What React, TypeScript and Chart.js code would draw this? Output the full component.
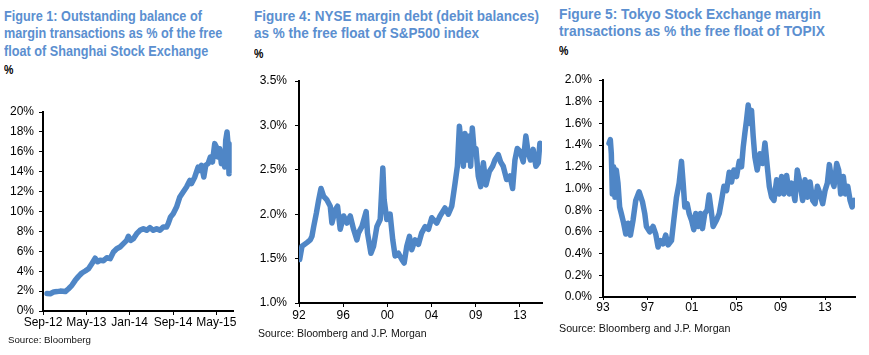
import React, { useEffect, useRef } from "react";
import { Chart, registerables } from "chart.js";

Chart.register(...registerables);

// ---------- Figure 1: Shanghai (x = months since Sep-12) ----------
const shMonths = [
  0.74, 1.35, 1.96, 2.58, 3.19, 4.11, 4.72, 5.33, 5.95, 6.56,
  7.17, 7.79, 8.4, 9.01, 9.63, 10.06, 10.55, 11.16, 11.77, 12.39,
  13.0, 13.61, 14.22, 14.84, 15.45, 15.76, 16.19, 16.68, 17.29, 17.9,
  18.52, 19.13, 19.74, 20.36, 20.97, 21.58, 22.2, 22.81, 23.11, 23.54,
  24.03, 24.65, 25.26, 25.87, 26.49, 27.1, 27.41, 28.02, 28.63, 28.94,
  29.25, 29.68, 30.04, 30.47, 30.9, 31.27, 31.7, 32.0, 32.31, 32.62,
  32.92, 33.23, 33.54, 33.72, 33.97, 34.15, 34.33,
];
const shValues = [
  1.75, 1.74, 1.91, 1.95, 2.0, 1.95, 2.24, 2.58, 3.08, 3.48,
  3.82, 4.02, 4.25, 4.76, 5.3, 4.95, 5.1, 5.05, 5.35, 5.26,
  5.93, 6.26, 6.43, 6.77, 7.1, 7.5, 7.1, 7.27, 7.77, 8.11,
  8.27, 8.11, 8.38, 8.11, 8.27, 8.11, 8.44, 8.44, 8.78, 9.45,
  9.78, 10.45, 11.46, 11.96, 12.46, 13.13, 12.8, 13.47, 14.47, 14.14,
  14.64, 13.47, 14.64, 14.81, 15.48, 14.97, 16.82, 16.48, 15.48, 16.31,
  14.81, 15.48, 14.47, 17.15, 17.99, 16.82, 13.8,
];
const shXTicks = [0, 8, 16, 24, 32];
const shXLabels = ["Sep-12", "May-13", "Jan-14", "Sep-14", "May-15"];
const shYLabels = ["0%", "2%", "4%", "6%", "8%", "10%", "12%", "14%", "16%", "18%", "20%"];

// ---------- Figure 4: NYSE ----------
const nyX = [
  0.06, 0.27, 0.72, 1.02, 1.17, 1.33, 1.57, 1.78, 1.99, 2.23,
  2.53, 2.83, 2.98, 3.28, 3.49, 3.73, 4.04, 4.34, 4.64, 4.94,
  5.24, 5.39, 5.69, 6.08, 6.2, 6.51, 6.75, 7.05, 7.35, 7.59,
  7.71, 7.95, 8.25, 8.49, 8.7, 9.0, 9.31, 9.52, 9.76, 10.0,
  10.21, 10.51, 10.81, 11.11, 11.42, 11.72, 12.02, 12.47, 12.77, 13.22,
  13.52, 13.83, 14.13, 14.34, 14.52, 14.73, 14.88, 15.03, 15.24, 15.42,
  15.54, 15.69, 15.87, 16.02, 16.23, 16.45, 16.69, 16.93, 17.23, 17.53,
  17.74, 18.04, 18.25, 18.49, 18.8, 19.1, 19.34, 19.55, 19.76, 20.0,
  20.3, 20.54, 20.75, 20.96, 21.2, 21.45, 21.66, 21.81, 21.96,
];
const nyValues = [
  1.49, 1.64, 1.68, 1.71, 1.75, 1.86, 2.01, 2.16, 2.29, 2.2,
  2.16, 2.09, 1.9, 2.05, 2.09, 1.83, 1.98, 1.9, 1.98, 1.83,
  1.71, 1.79, 1.86, 2.03, 1.79, 1.56, 1.64, 1.86, 1.94, 2.52,
  2.16, 1.94, 2.0, 1.71, 1.53, 1.56, 1.49, 1.45, 1.64, 1.75,
  1.6, 1.71, 1.66, 1.79, 1.86, 1.83, 1.96, 1.9, 1.98, 2.07,
  2.0, 2.09, 2.35, 2.54, 2.99, 2.73, 2.54, 2.91, 2.61, 2.88,
  2.54, 2.97, 2.69, 2.74, 2.43, 2.31, 2.58, 2.33, 2.48, 2.54,
  2.61, 2.67, 2.59, 2.54, 2.39, 2.43, 2.29, 2.61, 2.74, 2.71,
  2.59, 2.88, 2.69, 2.61, 2.73, 2.54, 2.58, 2.8, 2.76,
];
const nyXTicks = [0, 4, 8, 12, 16, 20];
const nyXLabels = ["92", "96", "00", "04", "09", "13"];
const nyYLabels = ["1.0%", "1.5%", "2.0%", "2.5%", "3.0%", "3.5%"];

// ---------- Figure 5: Tokyo ----------
const tkX = [
  0.54, 0.66, 0.75, 0.84, 0.96, 1.08, 1.2, 1.35, 1.5, 1.65,
  1.86, 2.05, 2.26, 2.47, 2.71, 2.95, 3.25, 3.55, 3.76, 3.91,
  4.21, 4.51, 4.75, 4.96, 5.17, 5.41, 5.65, 5.86, 6.17, 6.38,
  6.62, 6.86, 7.07, 7.22, 7.37, 7.58, 7.76, 7.97, 8.18, 8.36,
  8.57, 8.78, 8.96, 9.17, 9.38, 9.56, 9.74, 9.92, 10.23, 10.47,
  10.68, 10.89, 11.13, 11.37, 11.58, 11.79, 12.03, 12.27, 12.48, 12.63,
  12.78, 12.93, 13.08, 13.23, 13.38, 13.53, 13.68, 13.89, 14.14, 14.38,
  14.59, 14.8, 14.98, 15.19, 15.4, 15.64, 15.88, 16.09, 16.3, 16.54,
  16.78, 16.99, 17.29, 17.5, 17.74, 17.98, 18.2, 18.41, 18.65, 18.89,
  19.1, 19.31, 19.55, 19.79, 20.0, 20.21, 20.39, 20.6, 20.81, 21.05,
  21.23, 21.41, 21.65, 21.83, 22.05, 22.26, 22.44, 22.62,
];
const tkValues = [
  1.415, 1.45, 1.32, 0.95, 1.2, 0.92, 1.17, 1.05, 0.83, 0.77,
  0.68, 0.58, 0.68, 0.57, 0.71, 0.89, 0.97, 0.88, 0.77, 0.65,
  0.6, 0.65, 0.58, 0.46, 0.52, 0.49, 0.57, 0.48, 0.52, 0.71,
  0.92, 1.05, 1.25, 1.05, 0.83, 0.86, 0.77, 0.71, 0.62, 0.77,
  0.65, 0.77, 0.63, 0.77, 0.8, 0.94, 0.8, 0.65, 0.71, 0.77,
  0.89, 1.02, 0.98, 1.15, 1.06, 1.17, 1.11, 1.25, 1.2, 1.38,
  1.51, 1.63, 1.77, 1.6, 1.72, 1.48, 1.29, 1.17, 1.32, 1.23,
  1.42, 1.2, 1.02, 0.92, 0.89, 1.08, 0.95, 1.11, 0.95, 1.12,
  0.95, 1.05, 0.89, 1.17, 1.05, 0.89, 1.08, 0.92, 1.06, 0.89,
  0.86, 1.02, 0.95, 0.86, 0.98, 1.05, 1.22, 1.08, 1.02, 1.23,
  1.17, 0.95, 1.11, 0.95, 1.02, 0.89, 0.83, 0.89,
];
const tkXTicks = [0, 4, 8, 12, 16, 20];
const tkXLabels = ["93", "97", "01", "05", "09", "13"];
const tkYLabels = ["0.0%", "0.2%", "0.4%", "0.6%", "0.8%", "1.0%", "1.2%", "1.4%", "1.6%", "1.8%", "2.0%"];

const LINE = "#4f86c6";
const TITLE = "#5b8fd0";
const FONT = "'Liberation Sans', Arial, sans-serif";

type PanelProps = {
  left: number; top: number; width: number; height: number;
  yW: number; xH: number; pt: number; pr: number;
  xs: number[]; ys: number[];
  xMin: number; xMax: number; xTicks: number[]; xLabels: string[];
  yMin: number; yMax: number; yStep: number; yLabels: string[];
  yPad: number; xPad: number; xTickLen: number;
};

function Panel(p: PanelProps) {
  const ref = useRef<HTMLCanvasElement>(null);
  useEffect(() => {
    if (!ref.current) return;
    const chart = new Chart(ref.current, {
      type: "line",
      data: {
        datasets: [
          {
            data: p.xs.map((x, i) => ({ x, y: p.ys[i] })),
            borderColor: LINE,
            borderWidth: 5.5,
            pointRadius: 0,
            tension: 0,
            borderJoinStyle: "round",
            borderCapStyle: "round",
          },
        ],
      },
      options: {
        animation: false,
        responsive: false,
        devicePixelRatio: 1,
        layout: { padding: { top: p.pt, right: p.pr, left: 0, bottom: 0 } },
        plugins: { legend: { display: false }, tooltip: { enabled: false } },
        scales: {
          x: {
            type: "linear",
            min: p.xMin,
            max: p.xMax,
            afterBuildTicks: (scale: any) => {
              scale.ticks = p.xTicks.map((v) => ({ value: v }));
            },
            afterFit: (scale: any) => {
              scale.height = p.xH;
            },
            ticks: {
              autoSkip: false,
              maxRotation: 0,
              padding: p.xPad,
              color: "#000",
              font: { family: FONT, size: 12 },
              callback: (v: any) => {
                const i = p.xTicks.indexOf(Number(v));
                return i >= 0 ? p.xLabels[i] : "";
              },
            },
            grid: { display: true, drawOnChartArea: false, drawTicks: true, tickLength: p.xTickLen, color: "#000", lineWidth: 1 },
            border: { display: true, color: "#000", width: 2 },
          },
          y: {
            type: "linear",
            min: p.yMin,
            max: p.yMax,
            afterFit: (scale: any) => {
              scale.width = p.yW;
            },
            ticks: {
              stepSize: p.yStep,
              padding: p.yPad,
              color: "#000",
              font: { family: FONT, size: 12 },
              callback: (v: any) => {
                const i = Math.round((Number(v) - p.yMin) / p.yStep);
                return p.yLabels[i] ?? "";
              },
            },
            grid: { display: true, drawOnChartArea: false, drawTicks: true, tickLength: 4, color: "#000", lineWidth: 1 },
            border: { display: true, color: "#000", width: 2 },
          },
        },
      },
    } as any);
    return () => chart.destroy();
  }, []);
  return (
    <canvas
      ref={ref}
      width={p.width}
      height={p.height}
      style={{ position: "absolute", left: p.left, top: p.top, width: p.width, height: p.height }}
    />
  );
}

function Title({ left, top, scale, lines }: { left: number; top: number; scale: number; lines: string[] }) {
  return (
    <div
      style={{
        position: "absolute",
        left,
        top,
        fontFamily: FONT,
        fontWeight: "bold",
        fontSize: 15,
        lineHeight: "17.8px",
        color: TITLE,
        whiteSpace: "nowrap",
        transform: `scaleX(${scale})`,
        transformOrigin: "left top",
      }}
    >
      {lines.map((l, i) => (
        <div key={i}>{l}</div>
      ))}
    </div>
  );
}

function Unit({ left, top }: { left: number; top: number }) {
  return (
    <div
      style={{
        position: "absolute",
        left,
        top,
        fontFamily: FONT,
        fontWeight: "bold",
        fontSize: 12,
        lineHeight: "14px",
        color: "#000",
        transform: "scaleX(0.88)",
        transformOrigin: "left top",
      }}
    >
      %
    </div>
  );
}

function Source({ left, top, size, text }: { left: number; top: number; size: number; text: string }) {
  return (
    <div
      style={{
        position: "absolute",
        left,
        top,
        fontFamily: FONT,
        fontSize: size,
        lineHeight: "12px",
        color: "#111",
        whiteSpace: "nowrap",
      }}
    >
      {text}
    </div>
  );
}

export default function App() {
  return (
    <div style={{ position: "absolute", left: 0, top: 0, width: 869, height: 355, background: "#fff", overflow: "hidden" }}>
      <Title
        left={4}
        top={6.5}
        scale={0.845}
        lines={["Figure 1: Outstanding balance of", "margin transactions as % of the free", "float of Shanghai Stock Exchange"]}
      />
      <Unit left={4} top={63} />
      <Panel
        left={0} top={95} width={250} height={240}
        yW={43} xH={24} pt={17} pr={17}
        xs={shMonths} ys={shValues}
        xMin={0} xMax={35.07} xTicks={shXTicks} xLabels={shXLabels}
        yMin={0} yMax={20} yStep={2} yLabels={shYLabels}
        yPad={5} xPad={0} xTickLen={4}
      />
      <Source left={8} top={333.5} size={9.7} text="Source: Bloomberg" />

      <Title
        left={254}
        top={6.5}
        scale={0.9}
        lines={["Figure 4: NYSE margin debt (debit balances)", "as % the free float of S&P500 index"]}
      />
      <Unit left={254} top={46.5} />
      <Panel
        left={250} top={65} width={310} height={265}
        yW={49} xH={27} pt={16} pr={18}
        xs={nyX} ys={nyValues}
        xMin={0} xMax={22} xTicks={nyXTicks} xLabels={nyXLabels}
        yMin={1} yMax={3.5} yStep={0.5} yLabels={nyYLabels}
        yPad={8} xPad={1} xTickLen={4}
      />
      <Source left={258} top={327.3} size={10.5} text="Source: Bloomberg and J.P. Morgan" />

      <Title
        left={559}
        top={4.6}
        scale={0.92}
        lines={["Figure 5: Tokyo Stock Exchange margin", "transactions as % the free float of TOPIX"]}
      />
      <Unit left={559} top={44} />
      <Panel
        left={555} top={65} width={314} height={260}
        yW={48} xH={28} pt={15} pr={14}
        xs={tkX} ys={tkValues}
        xMin={0} xMax={22.7} xTicks={tkXTicks} xLabels={tkXLabels}
        yMin={0} yMax={2} yStep={0.2} yLabels={tkYLabels}
        yPad={7} xPad={0} xTickLen={3}
      />
      <Source left={559} top={321.7} size={10.7} text="Source: Bloomberg and J.P. Morgan" />
    </div>
  );
}
